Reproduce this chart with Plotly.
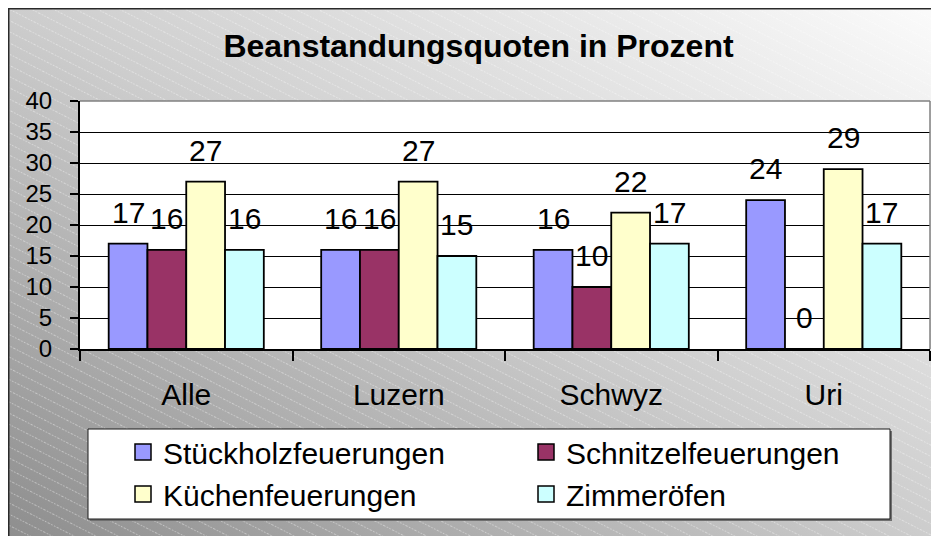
import base64
import plotly.graph_objects as go

# ---- data ----
categories = ["Alle", "Luzern", "Schwyz", "Uri"]
series_names = ["Stückholzfeuerungen", "Schnitzelfeuerungen", "Küchenfeuerungen", "Zimmeröfen"]
stueckholz = [17, 16, 16, 24]
schnitzel = [16, 16, 10, 0]
kuechen = [27, 27, 22, 29]
zimmeroefen = [16, 15, 17, 17]
series_values = [stueckholz, schnitzel, kuechen, zimmeroefen]
series_colors = ["#9999FF", "#993366", "#FFFFCC", "#CCFFFF"]
y_ticks = [0, 5, 10, 15, 20, 25, 30, 35, 40]
title_text = "Beanstandungsquoten in Prozent"

# ---- layout constants (page has an 8px body margin) ----
OFF = 8
W, H = 939 - OFF, 536 - OFF
PL, PT, PR, PB = 80 - OFF, 101 - OFF, 930 - OFF, 349 - OFF   # plot area in figure px
ML, MT, MR, MB = PL, PT, W - PR, H - PB
PW, PH = PR - PL, PB - PT
BARGAP = 0.27
FONT = "Liberation Sans, Arial, sans-serif"


def px_x(x):
    return (x - PL) / PW


def px_y(y):
    return (PB - y) / PH


# background (gradient + faint diagonal stripes + frame) as inline SVG
svg = f'''<svg xmlns="http://www.w3.org/2000/svg" width="{W}" height="{H}" viewBox="0 0 {W} {H}" preserveAspectRatio="none">
<defs>
<linearGradient id="g" x1="0" y1="1" x2="1" y2="0">
<stop offset="0" stop-color="#8e8e8e"/>
<stop offset="0.5" stop-color="#cdcdcd"/>
<stop offset="1" stop-color="#fbfbfb"/>
</linearGradient>
<pattern id="p" width="10" height="10" patternUnits="userSpaceOnUse" patternTransform="rotate(27)">
<line x1="0" y1="0.5" x2="10" y2="0.5" stroke="#ffffff" stroke-opacity="0.4" stroke-width="1" stroke-dasharray="1.5,1.5"/>
</pattern>
</defs>
<rect width="{W}" height="{H}" fill="url(#g)"/>
<rect width="{W}" height="{H}" fill="url(#p)"/>
<path d="M0.5,{H + 5} V0 M0,0.5 H{W + 5}" stroke="#2a2a2a" stroke-width="2" fill="none"/>
</svg>'''
bg_uri = "data:image/svg+xml;base64," + base64.b64encode(svg.encode("utf-8")).decode("ascii")

fig = go.Figure()

for name, vals, col in zip(series_names, series_values, series_colors):
    fig.add_trace(go.Bar(
        x=categories, y=vals, name=name, showlegend=False,
        marker=dict(color=col, line=dict(color="#000000", width=1.8)),
        hoverinfo="x+y+name",
    ))
    # legend-only entry with larger swatch
    fig.add_trace(go.Scatter(
        x=[None], y=[None], mode="markers", name=name,
        marker=dict(symbol="square", size=16, color=col, line=dict(color="#000000", width=1.5)),
        hoverinfo="skip",
    ))

# value labels above bars
bar_px = (PW / len(categories)) * (1 - BARGAP) / len(series_names)
annotations = []
for i, vals in enumerate(series_values):
    for cat, v in zip(categories, vals):
        annotations.append(dict(
            x=cat, y=v, xref="x", yref="y", text=str(v), showarrow=False,
            xanchor="center", yanchor="bottom",
            xshift=(i - (len(series_names) - 1) / 2) * bar_px, yshift=13,
            font=dict(family=FONT, size=30, color="#000000"),
        ))

shapes = [
    # white plot area
    dict(type="rect", xref="paper", yref="paper", x0=0, x1=1, y0=0, y1=1,
         fillcolor="#ffffff", line=dict(width=0), layer="below"),
    # grey plot border top and right
    dict(type="line", xref="paper", yref="paper", x0=0, x1=1, y0=1, y1=1,
         line=dict(color="#808080", width=1.5), layer="above"),
    dict(type="line", xref="paper", yref="paper", x0=1, x1=1, y0=0, y1=1,
         line=dict(color="#808080", width=1.5), layer="above"),
    # legend box shadow + box
    dict(type="rect", xref="paper", yref="paper",
         x0=px_x(90 - OFF), x1=px_x(892 - OFF), y0=px_y(521 - OFF), y1=px_y(431 - OFF),
         fillcolor="#707070", line=dict(width=0), layer="below"),
    dict(type="rect", xref="paper", yref="paper",
         x0=px_x(88 - OFF), x1=px_x(890 - OFF), y0=px_y(519 - OFF), y1=px_y(429 - OFF),
         fillcolor="#ffffff", line=dict(color="#1a1a1a", width=1), layer="below"),
]

fig.update_layout(
    width=W, height=H, autosize=False,
    margin=dict(l=ML, r=MR, t=MT, b=MB, pad=0),
    paper_bgcolor="#ffffff", plot_bgcolor="rgba(0,0,0,0)",
    barmode="group", bargap=BARGAP, bargroupgap=0,
    font=dict(family=FONT, color="#000000"),
    title=dict(text=f"<b>{title_text}</b>", x=(478.5 - OFF) / W, y=1 - (46 - OFF) / H,
               xref="container", yref="container", xanchor="center", yanchor="middle",
               font=dict(family=FONT, size=32, color="#000000")),
    xaxis=dict(type="category", categoryorder="array", categoryarray=categories,
               range=[-0.5, len(categories) - 0.5],
               showline=True, linecolor="#000000", linewidth=2,
               ticks="outside", tickson="boundaries", ticklen=10, tickwidth=1.5, tickcolor="#000000",
               tickfont=dict(family=FONT, size=30, color="#000000"),
               ticklabelstandoff=18, showgrid=False, fixedrange=True),
    yaxis=dict(range=[0, 40], tickvals=y_ticks, ticktext=[str(t) for t in y_ticks],
               showline=True, linecolor="#000000", linewidth=2,
               ticks="outside", ticklen=8, tickwidth=1.5, tickcolor="#000000",
               tickfont=dict(family=FONT, size=24, color="#000000"),
               ticklabelstandoff=13,
               showgrid=True, gridcolor="#000000", gridwidth=1, zeroline=False, fixedrange=True),
    legend=dict(orientation="h", x=px_x(123 - OFF), y=px_y(426 - OFF),
                xanchor="left", yanchor="top", bgcolor="rgba(0,0,0,0)", borderwidth=0,
                entrywidth=358, entrywidthmode="pixels", traceorder="normal",
                font=dict(family=FONT, size=30, color="#000000")),
    images=[dict(source=bg_uri, xref="paper", yref="paper", x=-ML / PW, y=1 + MT / PH,
                 sizex=W / PW, sizey=H / PH, xanchor="left", yanchor="top",
                 sizing="stretch", layer="below")],
    shapes=shapes,
    annotations=annotations,
    showlegend=True,
)

fig.write_html("out.html")
